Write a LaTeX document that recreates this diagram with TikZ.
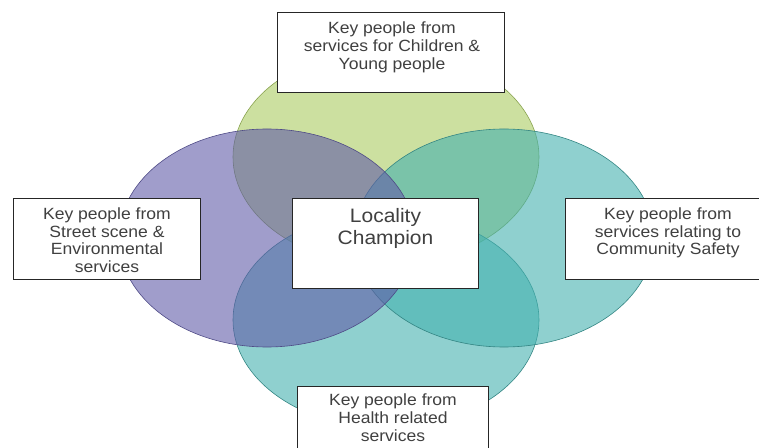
\documentclass[tikz,border=0pt]{standalone}
\usepackage{fontspec}
\setmainfont[FakeStretch=1.08]{Liberation Sans}
\usetikzlibrary{positioning}
\definecolor{kidsgreen}{HTML}{AACB61}
\definecolor{streetpurple}{HTML}{615CA8}
\definecolor{safetyteal}{HTML}{44B1AF}
\definecolor{labelgrey}{HTML}{404040}
\tikzset{
  circle set/.style={fill opacity=0.6, line width=0.6pt},
  box/.style={draw=black!85, line width=1pt, fill=white, anchor=north west, inner sep=0pt},
  boxtext/.style={inner sep=0pt, align=center, text=labelgrey, font=\fontsize{16.3}{17.8}\selectfont},
}

\begin{document}
\begin{tikzpicture}[x=1bp,y=-1bp]
\useasboundingbox (0,0) rectangle (759,448);
% the four services
\filldraw[circle set, fill=kidsgreen, draw=kidsgreen!80!black] (386,157) ellipse [x radius=153bp, y radius=108bp];
\filldraw[circle set, fill=safetyteal, draw=safetyteal!75!black] (386,320) ellipse [x radius=153bp, y radius=108bp];
\filldraw[circle set, fill=safetyteal, draw=safetyteal!75!black] (504,238) ellipse [x radius=150bp, y radius=109bp];
\filldraw[circle set, fill=streetpurple, draw=streetpurple!80!black] (267,238) ellipse [x radius=148bp, y radius=109bp];
% boxes
\node[box, minimum width=227bp, minimum height=80bp] (kids) at (277,12) {};
\node[box, minimum width=187bp, minimum height=81bp] (street) at (13,198) {};
\node[box, minimum width=186bp, minimum height=90bp] (champion) at (292,198) {};
\node[box, minimum width=205bp, minimum height=81bp] (safety) at (565,198) {};
\node[box, minimum width=191bp, minimum height=70bp] (health) at (297,386) {};
% texts
\node[boxtext, below=10bp of kids.north, xshift=1bp] (kidstext) {Key people from\\services for Children \&\\Young people};
\node[boxtext, below=9.5bp of street.north] (streettext) {Key people from\\Street scene \&\\Environmental\\services};
\node[boxtext, below=10bp of champion.north, font=\fontsize{19.5}{22}\selectfont] (championtext) {Locality\\Champion};
\node[boxtext, below=9.5bp of safety.north] (safetytext) {Key people from\\services relating to\\Community Safety};
\node[boxtext, below=8bp of health.north] (healthtext) {Key people from\\Health related\\services};
\end{tikzpicture}
\end{document}
